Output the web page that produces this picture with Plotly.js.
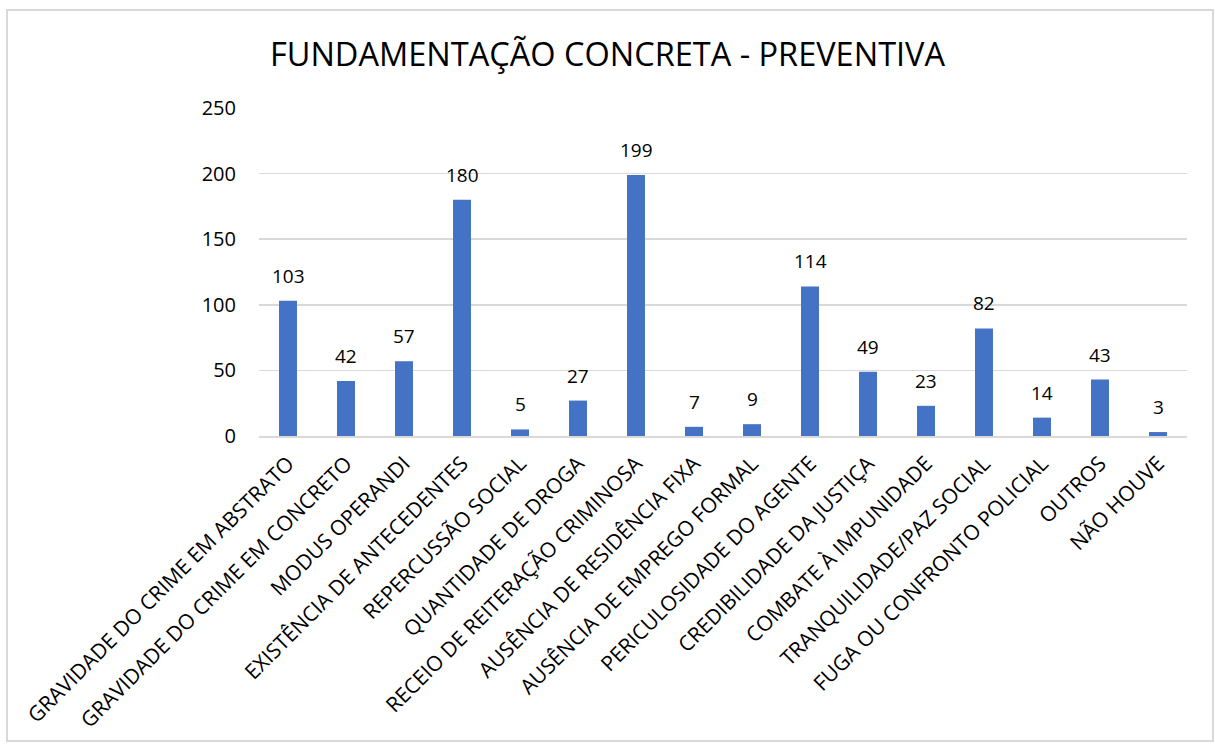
<!DOCTYPE html>
<html><head><meta charset="utf-8">
<script src="https://cdn.plot.ly/plotly-3.0.1.min.js"></script>
<style>
html,body{margin:0;padding:0;background:#fff;}
#chart{width:1215px;height:747px;}
#frame{position:absolute;left:6px;top:9px;width:1204px;height:729px;border:2px solid #d9d9d9;pointer-events:none;}
</style></head>
<body>
<div id="chart"></div>
<div id="frame"></div>
<script>
const categories = [
  "GRAVIDADE DO CRIME EM ABSTRATO",
  "GRAVIDADE DO CRIME EM CONCRETO",
  "MODUS OPERANDI",
  "EXISTÊNCIA DE ANTECEDENTES",
  "REPERCUSSÃO SOCIAL",
  "QUANTIDADE DE DROGA",
  "RECEIO DE REITERAÇÃO CRIMINOSA",
  "AUSÊNCIA DE RESIDÊNCIA FIXA",
  "AUSÊNCIA DE EMPREGO FORMAL",
  "PERICULOSIDADE DO AGENTE",
  "CREDIBILIDADE DA JUSTIÇA",
  "COMBATE À IMPUNIDADE",
  "TRANQUILIDADE/PAZ SOCIAL",
  "FUGA OU CONFRONTO POLICIAL",
  "OUTROS",
  "NÃO HOUVE"
];
const values = [103, 42, 57, 180, 5, 27, 199, 7, 9, 114, 49, 23, 82, 14, 43, 3];
const yTicks = [0, 50, 100, 150, 200, 250];
const chartTitle = "FUNDAMENTAÇÃO CONCRETA - PREVENTIVA";

const fontFam = "'Open Sans', 'Noto Sans', sans-serif";
const trace = {
  type: "bar",
  x: categories,
  y: values,
  marker: {color: "#4472C4"},
  hoverinfo: "x+y"
};
const annotations = categories.map((c, i) => ({
  x: c, y: values[i], xref: "x", yref: "y",
  text: String(values[i]),
  showarrow: false,
  yanchor: "bottom",
  yshift: 10,
  font: {family: fontFam, size: 19, color: "#000"}
}));
const layout = {
  width: 1215, height: 747,
  margin: {l: 259, r: 28, t: 108, b: 311, pad: 0},
  paper_bgcolor: "#fff", plot_bgcolor: "#fff",
  bargap: 0.69,
  showlegend: false,
  font: {family: fontFam, color: "#000"},
  title: {text: chartTitle, font: {family: fontFam, size: 32.5, color: "#000"}, x: 0.5, xanchor: "center", y: 0.927, yanchor: "middle"},
  annotations: annotations,
  xaxis: {
    type: "category",
    tickangle: -45,
    tickfont: {family: fontFam, size: 21, color: "#000"},
    showgrid: false,
    showline: true, linecolor: "#d9d9d9", linewidth: 2,
    ticks: "outside", ticklen: 5, tickcolor: "rgba(0,0,0,0)"
  },
  yaxis: {
    range: [0, 250],
    tickvals: yTicks,
    ticktext: yTicks.map(String),
    tickfont: {family: fontFam, size: 20, color: "#000"},
    showgrid: true, gridcolor: "#d9d9d9", gridwidth: 1.5,
    zeroline: false,
    showline: false,
    ticks: "outside", ticklen: 18, tickcolor: "rgba(0,0,0,0)"
  }
};
Plotly.newPlot("chart", [trace], layout, {displayModeBar: false, staticPlot: true});
</script>
</body></html>
